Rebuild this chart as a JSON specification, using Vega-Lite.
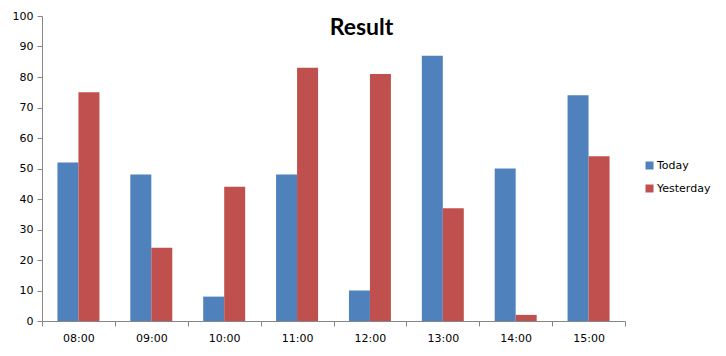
{
  "$schema": "https://vega.github.io/schema/vega-lite/v6.json",
  "autosize": "none",
  "width": 583,
  "height": 305,
  "padding": {"left": 42, "top": 16, "right": 101, "bottom": 35},
  "background": "white",
  "title": {
    "text": "Result",
    "font": "Lato",
    "fontSize": 23,
    "fontWeight": "bold",
    "color": "#000000",
    "anchor": "middle",
    "frame": "group",
    "dx": 28,
    "dy": 30,
    "offset": 0
  },
  "data": {
    "values": [
      {"time": "08:00", "series": "Today", "value": 52},
      {"time": "08:00", "series": "Yesterday", "value": 75},
      {"time": "09:00", "series": "Today", "value": 48},
      {"time": "09:00", "series": "Yesterday", "value": 24},
      {"time": "10:00", "series": "Today", "value": 8},
      {"time": "10:00", "series": "Yesterday", "value": 44},
      {"time": "11:00", "series": "Today", "value": 48},
      {"time": "11:00", "series": "Yesterday", "value": 83},
      {"time": "12:00", "series": "Today", "value": 10},
      {"time": "12:00", "series": "Yesterday", "value": 81},
      {"time": "13:00", "series": "Today", "value": 87},
      {"time": "13:00", "series": "Yesterday", "value": 37},
      {"time": "14:00", "series": "Today", "value": 50},
      {"time": "14:00", "series": "Yesterday", "value": 2},
      {"time": "15:00", "series": "Today", "value": 74},
      {"time": "15:00", "series": "Yesterday", "value": 54}
    ]
  },
  "mark": {"type": "bar"},
  "encoding": {
    "x": {
      "field": "time",
      "type": "nominal",
      "title": null,
      "scale": {"paddingInner": 0, "paddingOuter": 0},
      "axis": {
        "labelAngle": 0,
        "labelFont": "DejaVu Sans",
        "labelFontSize": 11,
        "labelColor": "#000000",
        "domainColor": "#868686",
        "tickColor": "#868686",
        "tickSize": 5,
        "tickBand": "extent",
        "labelPadding": 6,
        "grid": false
      }
    },
    "xOffset": {"field": "series", "type": "nominal", "scale": {"paddingInner": 0, "paddingOuter": 0.736}},
    "y": {
      "field": "value",
      "type": "quantitative",
      "title": null,
      "scale": {"domain": [0, 100], "nice": false},
      "axis": {
        "values": [0, 10, 20, 30, 40, 50, 60, 70, 80, 90, 100],
        "labelFont": "DejaVu Sans",
        "labelFontSize": 11,
        "labelColor": "#000000",
        "domainColor": "#868686",
        "tickColor": "#868686",
        "tickSize": 5,
        "labelPadding": 4,
        "grid": false
      }
    },
    "color": {
      "field": "series",
      "type": "nominal",
      "title": null,
      "scale": {"domain": ["Today", "Yesterday"], "range": ["#4F81BD", "#C0504D"]},
      "legend": {
        "orient": "none",
        "legendX": 602,
        "legendY": 144,
        "symbolType": "square",
        "symbolSize": 64,
        "symbolStrokeWidth": 0,
        "labelFont": "DejaVu Sans",
        "labelFontSize": 11,
        "labelColor": "#000000",
        "labelOffset": 2,
        "rowPadding": 11
      }
    }
  },
  "config": {
    "view": {"stroke": null}
  }
}
